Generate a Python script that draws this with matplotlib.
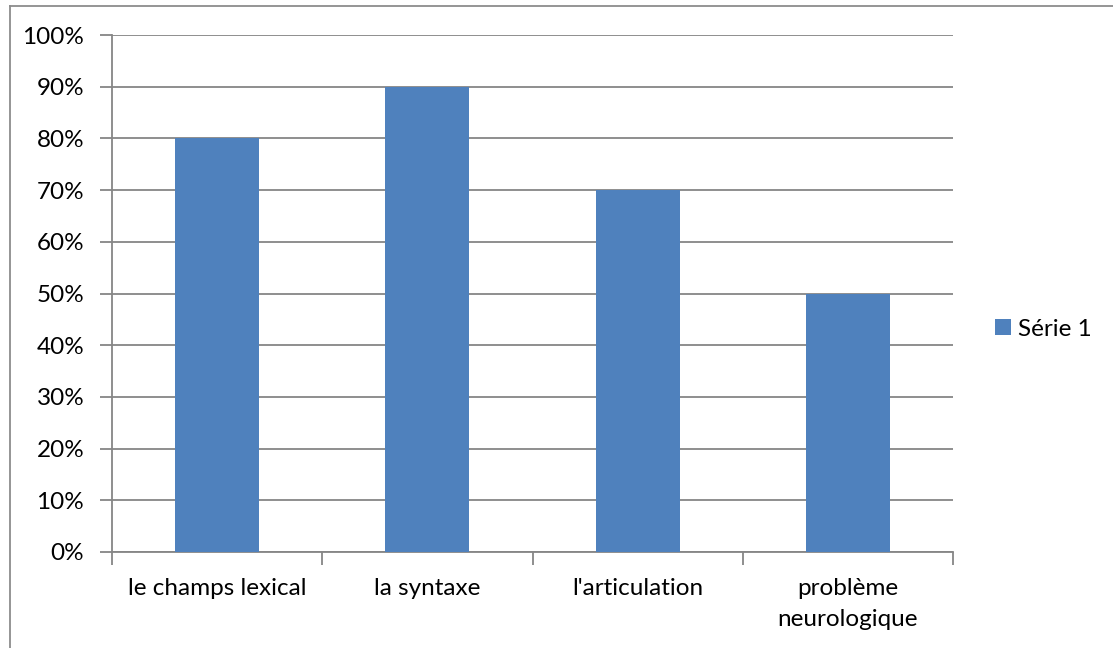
import matplotlib
matplotlib.use("Agg")
import matplotlib.pyplot as plt
from matplotlib.lines import Line2D
import numpy as np

categories = ["le champs lexical", "la syntaxe", "l'articulation", "problème\nneurologique"]
values = [0.80, 0.90, 0.70, 0.50]
series_name = "Série 1"
yticks = [0, 0.1, 0.2, 0.3, 0.4, 0.5, 0.6, 0.7, 0.8, 0.9, 1.0]
ytick_labels = ["0%", "10%", "20%", "30%", "40%", "50%", "60%", "70%", "80%", "90%", "100%"]

W, H = 1113, 648
FS = 17.5
plt.rcParams['font.family'] = ['Lato', 'DejaVu Sans']
fig = plt.figure(figsize=(W/100, H/100), dpi=100)

# outer frame (only top and left edges visible)
fig.add_artist(Line2D([10/W, 1.0], [1 - 6/H, 1 - 6/H], transform=fig.transFigure,
                      color='#8c8c8c', linewidth=1.3))
fig.add_artist(Line2D([10/W, 10/W], [0.0, 1 - 6/H], transform=fig.transFigure,
                      color='#8c8c8c', linewidth=1.3))

ax = fig.add_axes([112/W, 1 - 552/H, (953-112)/W, (552-35)/H])
x = np.arange(len(categories))
bars = ax.bar(x, values, width=0.4, color='#4f81bd', label=series_name, zorder=3)
ax.set_xlim(-0.5, len(categories) - 0.5)
ax.set_ylim(0, 1.0)

ax.set_yticks(yticks)
ax.set_yticklabels(ytick_labels, fontsize=FS)
ax.yaxis.grid(True, color='#868686', linewidth=1.3, zorder=0)

ax.set_xticks(np.arange(-0.5, len(categories), 1.0), minor=False)
ax.set_xticklabels([])
ax.set_xticks(x, minor=True)
ax.set_xticklabels(categories, minor=True, fontsize=FS, linespacing=1.55)
ax.tick_params(axis='x', which='minor', length=0, pad=19)
ax.tick_params(axis='x', which='major', length=9, color='#868686', width=1.3, direction='out')
ax.tick_params(axis='y', length=9, color='#868686', width=1.3, direction='out', pad=11)

for s in ['top', 'right']:
    ax.spines[s].set_visible(False)
for s in ['left', 'bottom']:
    ax.spines[s].set_color('#868686')
    ax.spines[s].set_linewidth(1.3)

leg = fig.legend(handles=[bars], labels=[series_name], loc='center left',
                 bbox_to_anchor=(973/W, 1 - 329/H), frameon=False,
                 fontsize=FS, handlelength=0.65, handleheight=0.65, handletextpad=0.3)

fig.savefig("out.png", dpi=100)
